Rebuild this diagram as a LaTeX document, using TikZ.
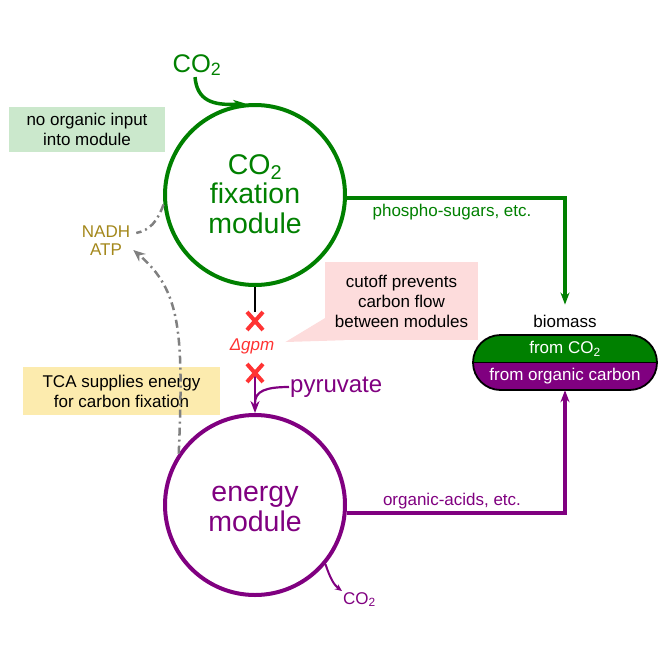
\documentclass[tikz,border=0pt]{standalone}
\usepackage{fontspec}
\setmainfont{Liberation Sans}
\usetikzlibrary{arrows.meta,shapes.misc,backgrounds}
\definecolor{gr}{HTML}{008000}
\definecolor{pu}{HTML}{800080}
\definecolor{rd}{HTML}{FF3333}
\definecolor{ol}{HTML}{A3871A}
\definecolor{pinkc}{HTML}{FDDCDC}
\definecolor{lgreen}{HTML}{CBE8CC}
\definecolor{lyellow}{HTML}{FCEBAE}
\definecolor{gy}{HTML}{808080}
\begin{document}
\begin{tikzpicture}[x=1pt,y=-1pt,
  module/.style={circle, draw, line width=4pt, minimum size=180pt, inner sep=0pt},
  bigtext/.style={align=center, inner sep=0pt, font=\fontsize{28.5}{29.5}\selectfont},
  note/.style={align=center, inner sep=0pt, font=\fontsize{17}{20}\selectfont},
  small/.style={inner sep=2pt, font=\fontsize{17}{20}\selectfont},
  cutx/.style={cross out, draw=rd, line width=4pt, minimum width=12pt, minimum height=14pt, inner sep=0pt},
  flow/.style={line width=3.8pt, -{Stealth[length=12pt,width=9pt]}},
  thin arrow/.style={line width=2pt},
  energyline/.style={gy, line width=2.5pt, dash pattern=on 8pt off 4pt on 2pt off 4pt}
]
\useasboundingbox (0,0) rectangle (664,664);

% boxes
\node[note, fill=lgreen, minimum width=156pt, minimum height=45pt] (nobox) at (87,129.5) {no organic input\\into module};
\node[note, fill=lyellow, minimum width=197pt, minimum height=48pt] (tcabox) at (121.5,391) {TCA supplies energy\\for carbon fixation};

% modules
\node[module, draw=gr] (fix) at (255,195) {};
\node[bigtext, text=gr] (fixt) at (255,194) {CO\textsubscript{2}\\fixation\\module};
\node[module, draw=pu] (en) at (255,505) {};
\node[bigtext, text=pu] (ent) at (255,509) {energy\\module};

% CO2 input
\node[anchor=base, inner sep=1pt, text=gr, font=\fontsize{25.5}{28}\selectfont] (co2top) at (197,72) {CO\textsubscript{2}};
\draw[gr, line width=3.5pt, -{Stealth[length=12pt,width=9pt]}] ([xshift=-2pt]co2top.south) .. controls (197,100) and (212,106) .. (fix.96);

% biomass
\node[small] (bm) at (565,321) {biomass};
\node[rounded rectangle, minimum width=184pt, minimum height=55pt, inner sep=0pt,
  path picture={\fill[gr] (path picture bounding box.north west) rectangle (path picture bounding box.east);
                \fill[pu] (path picture bounding box.west) rectangle (path picture bounding box.south east);}] (pill) at (565,362.5) {};
\draw[line width=1.5pt] (pill.west) -- (pill.east);
\node[rounded rectangle, draw, line width=1.8pt, minimum width=184pt, minimum height=55pt, inner sep=0pt] (pillb) at (565,362.5) {};
\node[small, text=white] (fromco2) at (565,349) {from CO\textsubscript{2}};
\node[small, text=white] (fromorg) at (565,376.5) {from organic carbon};

% output flows
\draw[flow, gr] (fix.-2) -| ([yshift=8pt]bm.north);
\node[small, text=gr] (phos) at (452,212) {phospho-sugars, etc.};
\draw[flow, pu] (en.-5) -| (pill.south);
\node[small, text=pu] (orga) at (452,501) {organic-acids, etc.};

% cutoff
\node[cutx] (x1) at (255,321) {};
\node[cutx] (x2) at (255,373) {};
\node[small, text=rd] (dg) at (252,346) {\itshape Δgpm};
\draw[line width=1.8pt] (fix.south) -- (x1.north);
\node[small, anchor=west, inner sep=1pt, text=pu, font=\fontsize{24}{26}\selectfont] (pyr) at (289,387) {pyruvate};
\coordinate (merge) at (255,403);
\begin{scope}[on background layer]
  \draw[pu, line width=2.5pt, -{Stealth[length=12pt,width=9pt]}] (x2.center) -- (en.north);
  \draw[pu, line width=2.2pt] (pyr.west) .. controls (266,387) and (255,391) .. (merge);
\end{scope}

% callout
\node[note, fill=pinkc, minimum width=153pt, minimum height=78pt] (cut) at (401.5,301) {cutoff prevents\\carbon flow\\between modules};
\begin{scope}[on background layer]
  \fill[pinkc] ([yshift=22pt]cut.south west) -- ([xshift=9pt,yshift=4pt]dg.east) -- ([xshift=20pt]cut.south west) -- cycle;
\end{scope}

% NADH / ATP
\node[note, text=ol, font=\fontsize{17}{18}\selectfont] (nadh) at (106,241) {NADH\\ATP};
\draw[energyline] (fix.186) .. controls (157,222) and (150,230) .. ([xshift=6pt,yshift=8pt]nadh.east);
\draw[energyline, -{Stealth[length=12pt,width=10pt]}] (en.146) .. controls (184,330) and (180,290) .. ([xshift=3pt,yshift=-9pt]nadh.east);

% CO2 output
\node[small, anchor=north west, inner sep=1pt] (co2b) at (342,591) {\textcolor{pu}{CO\textsubscript{2}}};
\draw[pu, thin arrow, -{Stealth[length=7pt,width=6pt]}] (en.-40) .. controls (330,578) and (334,585) .. (co2b.north west);
\end{tikzpicture}
\end{document}
